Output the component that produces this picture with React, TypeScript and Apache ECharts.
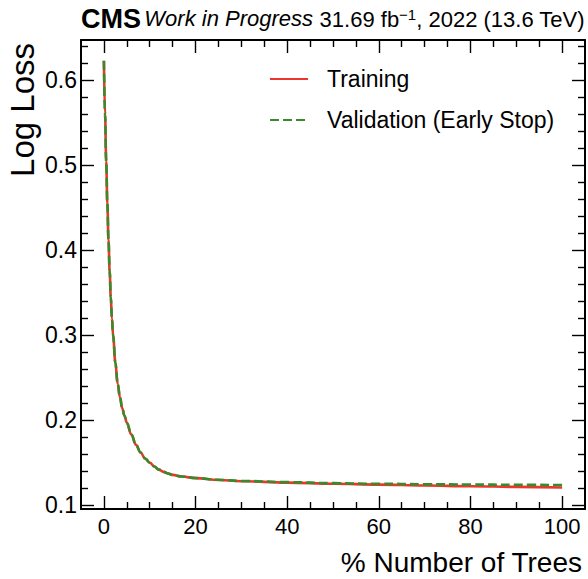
import React, { useEffect, useRef } from "react";
import * as echarts from "echarts";

// ---- data ----
const treesPct = [0, 0.25, 0.5, 0.75, 1, 1.25, 1.5, 1.75, 2, 2.5, 3, 3.5, 4, 4.5, 5, 6, 7, 8, 9, 10, 11, 12, 13, 14, 15, 17, 20, 25, 30, 40, 50, 60, 70, 80, 90, 100];
const trainingLoss = [0.623, 0.56, 0.505, 0.455, 0.412, 0.376, 0.345, 0.32, 0.3, 0.268, 0.243, 0.227, 0.214, 0.205, 0.197, 0.183, 0.171, 0.162, 0.155, 0.15, 0.1455, 0.1418, 0.1392, 0.1372, 0.1357, 0.1337, 0.1318, 0.1297, 0.1282, 0.1266, 0.1253, 0.1242, 0.1232, 0.1223, 0.1215, 0.1208];
const validationLoss = [0.623, 0.56, 0.505, 0.455, 0.412, 0.376, 0.345, 0.32, 0.3, 0.268, 0.243, 0.227, 0.214, 0.205, 0.197, 0.183, 0.171, 0.162, 0.155, 0.15, 0.1455, 0.1418, 0.1392, 0.1372, 0.1357, 0.1337, 0.1319, 0.1299, 0.1285, 0.1271, 0.1259, 0.1252, 0.1247, 0.1243, 0.124, 0.1237];

const xMajorTicks = [0, 20, 40, 60, 80, 100];
const xMinorTicks = [5, 10, 15, 25, 30, 35, 45, 50, 55, 65, 70, 75, 85, 90, 95];
const yMajorTicks = [0.1, 0.2, 0.3, 0.4, 0.5, 0.6];
const yMinorTicks = [0.12, 0.14, 0.16, 0.18, 0.22, 0.24, 0.26, 0.28, 0.32, 0.34, 0.36, 0.38, 0.42, 0.44, 0.46, 0.48, 0.52, 0.54, 0.56, 0.58, 0.62, 0.64];

const seriesNames = ["Training", "Validation (Early Stop)"];
const xTitle = "% Number of Trees";
const yTitle = "Log Loss";

const FONT = "'Liberation Sans', Arial, Helvetica, sans-serif";
const RED = "#e8382c";
const GREEN = "#3a8a2c";

export default function App() {
  const ref = useRef<HTMLDivElement>(null);

  useEffect(() => {
    if (!ref.current) return;
    const chart = echarts.init(ref.current, undefined, { renderer: "svg" });

    const X_MIN = -5, X_MAX = 105, Y_MIN = 0.0955, Y_MAX = 0.6475;

    const tickLine = { color: "#000", width: 1.4 };

    const mkX = (pos: "bottom" | "top", major: boolean, withLabels: boolean) => ({
      type: "value",
      position: pos,
      min: X_MIN,
      max: X_MAX,
      gridIndex: 0,
      axisLine: { show: major, onZero: false, lineStyle: { color: "#000", width: 2 } },
      axisTick: {
        show: true,
        inside: true,
        length: major ? 13 : 7,
        customValues: major ? xMajorTicks : xMinorTicks,
        lineStyle: tickLine,
      },
      axisLabel: withLabels
        ? {
            show: true,
            customValues: xMajorTicks,
            fontSize: 22,
            fontFamily: FONT,
            color: "#000",
            margin: 6,
            formatter: (v: number) => String(v),
          }
        : { show: false },
      splitLine: { show: false },
    });

    const mkY = (pos: "left" | "right", major: boolean, withLabels: boolean) => ({
      type: "value",
      position: pos,
      min: Y_MIN,
      max: Y_MAX,
      gridIndex: 0,
      axisLine: { show: major, onZero: false, lineStyle: { color: "#000", width: 2 } },
      axisTick: {
        show: true,
        inside: true,
        length: major ? 13 : 7,
        customValues: major ? yMajorTicks : yMinorTicks,
        lineStyle: tickLine,
      },
      axisLabel: withLabels
        ? {
            show: true,
            customValues: yMajorTicks,
            fontSize: 23,
            fontFamily: FONT,
            color: "#000",
            margin: 4,
            formatter: (v: number) => v.toFixed(1),
          }
        : { show: false },
      splitLine: { show: false },
    });

    const pairs = (ys: number[]) => treesPct.map((x, i) => [x, ys[i]]);

    chart.setOption({
      animation: false,
      backgroundColor: "#fff",
      grid: { left: 81, right: 3, top: 40, bottom: 70, containLabel: false },
      xAxis: [mkX("bottom", true, true), mkX("bottom", false, false), mkX("top", true, false), mkX("top", false, false)],
      yAxis: [mkY("left", true, true), mkY("left", false, false), mkY("right", true, false), mkY("right", false, false)],
      legend: {
        orient: "vertical",
        left: 269,
        top: 67,
        padding: 0,
        itemWidth: 38,
        itemHeight: 14,
        itemGap: 17,
        itemStyle: { opacity: 0, color: "transparent", borderWidth: 0 },
        textStyle: { fontSize: 23, fontFamily: FONT, color: "#000", lineHeight: 24, padding: [0, 0, 0, 14] },
        data: seriesNames,
      },
      graphic: [
        {
          type: "text",
          left: 81,
          top: 5,
          style: {
            text: "{b|CMS} {i|Work in Progress}",
            rich: {
              b: { fontSize: 27, fontWeight: "bold", fontFamily: FONT, fill: "#000" },
              i: { fontSize: 22, fontStyle: "italic", fontFamily: FONT, fill: "#000" },
            },
          },
        },
        {
          type: "text",
          right: 3,
          top: 7,
          style: {
            text: "{n|31.69 fb}{s|−1}{n|, 2022 (13.6 TeV)}",
            rich: {
              n: { fontSize: 22, fontFamily: FONT, fill: "#000" },
              s: { fontSize: 15, fontFamily: FONT, fill: "#000", verticalAlign: "top", padding: [0, 0, 10, 0] },
            },
          },
        },
        {
          type: "text",
          x: 582,
          y: 562,
          style: {
            text: xTitle,
            fontSize: 28,
            fontFamily: FONT,
            fill: "#000",
            align: "right",
            verticalAlign: "middle",
          },
        },
        {
          type: "text",
          x: 22,
          y: 43,
          rotation: Math.PI / 2,
          style: {
            text: yTitle,
            fontSize: 33,
            fontFamily: FONT,
            fill: "#000",
            align: "right",
            verticalAlign: "middle",
          },
        },
      ],
      series: [
        {
          name: seriesNames[0],
          type: "line",
          data: pairs(trainingLoss),
          xAxisIndex: 0,
          yAxisIndex: 0,
          symbol: "none",
          showSymbol: false,
          smooth: 0.4,
          smoothMonotone: "x",
          lineStyle: { color: RED, width: 2.6, type: "solid" },
          itemStyle: { color: RED },
          z: 3,
        },
        {
          name: seriesNames[1],
          type: "line",
          data: pairs(validationLoss),
          xAxisIndex: 0,
          yAxisIndex: 0,
          symbol: "none",
          showSymbol: false,
          smooth: 0.4,
          smoothMonotone: "x",
          lineStyle: { color: GREEN, width: 2.6, type: [9, 4] },
          itemStyle: { color: GREEN },
          z: 4,
        },
      ],
    });

    return () => chart.dispose();
  }, []);

  return (
    <div
      ref={ref}
      style={{ position: "fixed", left: 0, top: 0, width: 588, height: 579, background: "#fff" }}
    />
  );
}
